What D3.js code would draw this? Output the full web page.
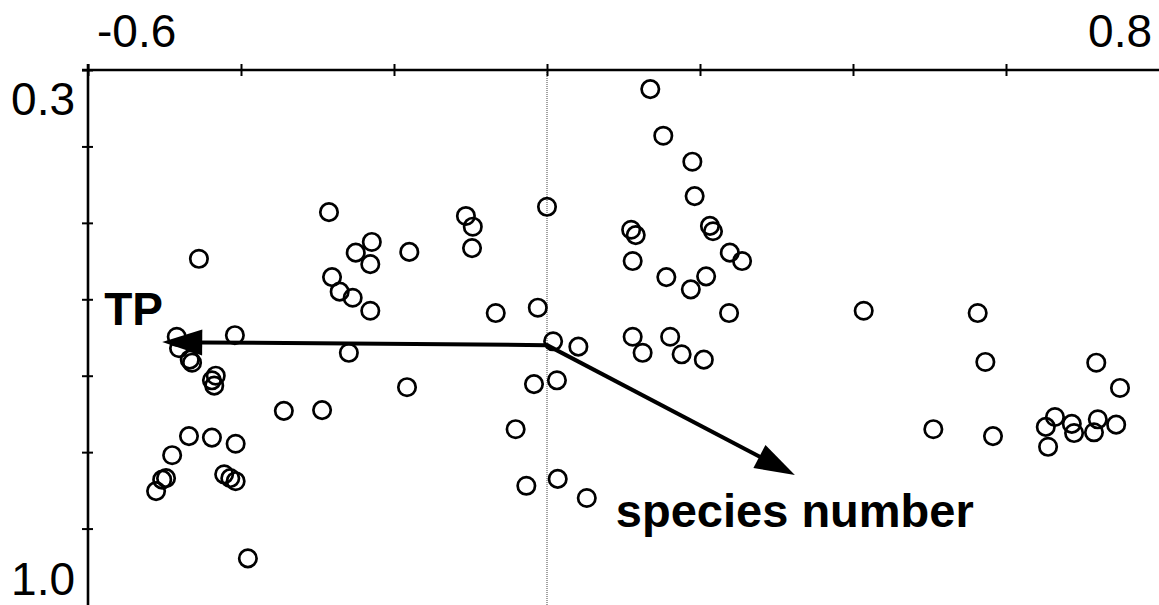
<!DOCTYPE html>
<html>
<head>
<meta charset="utf-8">
<script src="https://cdn.jsdelivr.net/npm/d3@7"></script>
<style>
  html, body { margin: 0; padding: 0; background: #fff; }
  svg { display: block; }
  text { font-family: "Liberation Sans", Arial, sans-serif; fill: #000; }
</style>
</head>
<body>
<svg id="chart" width="1159" height="605"></svg>
<script>
// ---- data ----
const xDomain = [-0.6, 0.8];
const yDomain = [0.3, 1.0];
const xTicks = [-0.6, -0.4, -0.2, 0, 0.2, 0.4, 0.6];
const yTicks = [0.3, 0.4, 0.5, 0.6, 0.7, 0.8, 0.9];
const xEndLabels = ["-0.6", "0.8"];
const yEndLabels = ["0.3", "1.0"];

const siteX = [
  -0.484, -0.481, -0.467, -0.464, -0.408, -0.433, -0.438, -0.435, -0.468, -0.438,
  -0.407, -0.490, -0.498, -0.503, -0.511, -0.422, -0.414, -0.407, -0.391, -0.344,
  -0.294, -0.183, -0.259, -0.455, -0.285, -0.229, -0.250, -0.231, -0.180, -0.281,
  -0.271, -0.254, -0.231, -0.106, -0.097, -0.098, -0.067, -0.012, 0.000, 0.008,
  0.041, -0.017, 0.013, -0.041, -0.027, 0.014, 0.052, 0.135, 0.152, 0.190,
  0.193, 0.110, 0.116, 0.213, 0.217, 0.112, 0.239, 0.255, 0.156, 0.208,
  0.188, 0.238, 0.112, 0.125, 0.161, 0.176, 0.205, 0.414, 0.563, 0.573,
  0.505, 0.583, 0.652, 0.664, 0.655, 0.686, 0.689, 0.715, 0.720, 0.744,
  0.718, 0.749
];
const siteY = [
  0.649, 0.664, 0.679, 0.683, 0.647, 0.700, 0.706, 0.713, 0.779, 0.781,
  0.789, 0.804, 0.834, 0.836, 0.851, 0.829, 0.834, 0.838, 0.939, 0.746,
  0.745, 0.715, 0.670, 0.547, 0.486, 0.525, 0.539, 0.554, 0.538, 0.571,
  0.590, 0.598, 0.615, 0.491, 0.505, 0.533, 0.618, 0.611, 0.479, 0.655,
  0.662, 0.711, 0.706, 0.770, 0.844, 0.835, 0.860, 0.325, 0.386, 0.420,
  0.465, 0.509, 0.516, 0.504, 0.511, 0.550, 0.539, 0.550, 0.571, 0.570,
  0.587, 0.618, 0.649, 0.670, 0.649, 0.672, 0.679, 0.615, 0.618, 0.682,
  0.770, 0.779, 0.767, 0.754, 0.793, 0.763, 0.775, 0.774, 0.757, 0.764,
  0.683, 0.716
];

const arrowNames = ["TP", "species number"];
const arrowX = [-0.503, 0.324];
const arrowY = [0.656, 0.830];
const arrowOrigin = [0.0, 0.66];

// ---- layout ----
const W = 1159, H = 605;
const mLeft = 88, mTop = 70;
const svg = d3.select("#chart");

const x = d3.scaleLinear().domain(xDomain).range([mLeft, W]);
const y = d3.scaleLinear().domain(yDomain).range([mTop, H]);

// zero dotted line
svg.append("line")
  .attr("x1", x(0)).attr("x2", x(0))
  .attr("y1", y(yDomain[0])).attr("y2", y(yDomain[1]))
  .attr("stroke", "#444").attr("stroke-width", 1)
  .attr("stroke-dasharray", "1,1");

// top axis
const gx = svg.append("g").attr("transform", `translate(0,${mTop})`)
  .call(d3.axisTop(x).tickValues(xTicks).tickFormat("").tickSizeOuter(0));
gx.select(".domain").attr("stroke", "#000").attr("stroke-width", 2.6)
  .attr("d", `M${mLeft - 6},0H${W}`);
gx.selectAll(".tick line").attr("y1", -6).attr("y2", 6)
  .attr("stroke", "#000").attr("stroke-width", 2);

// left axis
const gy = svg.append("g").attr("transform", `translate(${mLeft},0)`)
  .call(d3.axisLeft(y).tickValues(yTicks).tickFormat("").tickSizeOuter(0));
gy.select(".domain").attr("stroke", "#000").attr("stroke-width", 2.6)
  .attr("d", `M0,${mTop - 6}V${H}`);
gy.selectAll(".tick line").attr("x1", -6).attr("x2", 5)
  .attr("stroke", "#000").attr("stroke-width", 2);

// end labels
svg.append("text").attr("x", x(xDomain[0]) + 9).attr("y", 47)
  .attr("font-size", 46).attr("text-anchor", "start").text(xEndLabels[0]);
svg.append("text").attr("x", x(xDomain[1]) - 7).attr("y", 47)
  .attr("font-size", 46).attr("text-anchor", "end").text(xEndLabels[1]);
svg.append("text").attr("x", mLeft - 13).attr("y", y(yDomain[0]) + 45)
  .attr("font-size", 46).attr("text-anchor", "end").text(yEndLabels[0]);
svg.append("text").attr("x", mLeft - 13).attr("y", y(yDomain[1]) - 10)
  .attr("font-size", 46).attr("text-anchor", "end").text(yEndLabels[1]);

// sites
svg.append("g").selectAll("circle")
  .data(siteX.map((v, i) => [v, siteY[i]]))
  .join("circle")
  .attr("cx", d => x(d[0])).attr("cy", d => y(d[1]))
  .attr("r", 8.7)
  .attr("fill", "none").attr("stroke", "#000").attr("stroke-width", 2.7);

// arrows
const ox = x(arrowOrigin[0]), oy = y(arrowOrigin[1]);
const headLen = 40, headHalf = 13;
const ag = svg.append("g");
arrowNames.forEach((name, i) => {
  const tx = x(arrowX[i]), ty = y(arrowY[i]);
  const dx = tx - ox, dy = ty - oy;
  const len = Math.hypot(dx, dy);
  const ux = dx / len, uy = dy / len;
  const bx = tx - ux * headLen, by = ty - uy * headLen;
  ag.append("line")
    .attr("x1", ox).attr("y1", oy).attr("x2", bx + ux * 2).attr("y2", by + uy * 2)
    .attr("stroke", "#000").attr("stroke-width", 4).attr("stroke-linecap", "round");
  ag.append("polygon")
    .attr("points", [
      [tx, ty],
      [bx - uy * headHalf, by + ux * headHalf],
      [bx + uy * headHalf, by - ux * headHalf]
    ].map(p => p.join(",")).join(" "))
    .attr("fill", "#000");
});

// arrow labels
svg.append("text")
  .attr("x", x(arrowX[0]) - 58).attr("y", y(arrowY[0]) - 17)
  .attr("font-size", 46).attr("font-weight", "bold").text(arrowNames[0]);
svg.append("text")
  .attr("x", x(arrowX[1]) - 179).attr("y", y(arrowY[1]) + 52)
  .attr("font-size", 47).attr("font-weight", "bold").text(arrowNames[1]);
</script>
</body>
</html>
